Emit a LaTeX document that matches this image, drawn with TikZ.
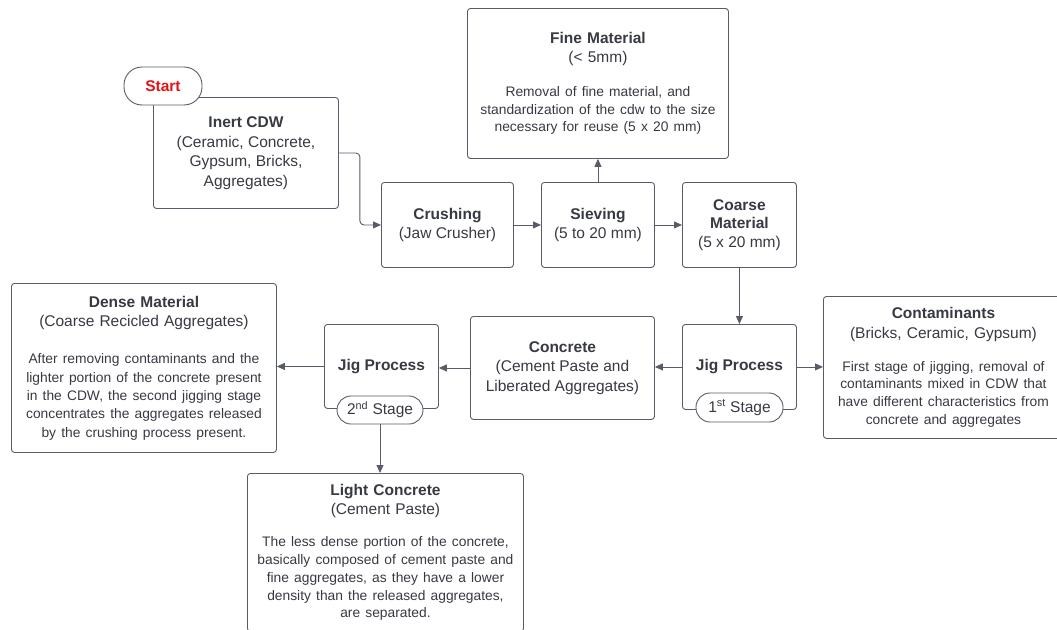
\documentclass[tikz,border=0pt]{standalone}
\usepackage{fontspec}
\setmainfont{Liberation Sans}
\usetikzlibrary{arrows.meta}
\definecolor{lncol}{RGB}{88,92,104}
\definecolor{txtcol}{RGB}{55,58,66}
\definecolor{startred}{RGB}{226,20,20}
\newcommand{\descfont}{\fontsize{13.8}{17.7}\selectfont}
\begin{document}
\begin{tikzpicture}[x=1pt,y=-1pt,
  box/.style={draw=lncol, line width=0.9pt, rounded corners=3pt, fill=white,
    anchor=north west, inner sep=0pt, align=center, text=txtcol,
    font=\fontsize{15.5}{19.5}\selectfont},
  pill/.style={draw=lncol, line width=0.9pt, rounded corners=14pt, fill=white,
    inner sep=0pt, align=center, text=txtcol, font=\fontsize{15.5}{19}\selectfont},
  arr/.style={draw=lncol, line width=0.9pt, -{Triangle[length=8pt,width=7pt]}, rounded corners=4pt}]
\useasboundingbox (0,0) rectangle (1057,629);
% boxes
\node[box, minimum width=185pt, minimum height=111pt] (inert) at (153,97)
  {\textbf{Inert CDW}\\(Ceramic, Concrete,\\Gypsum, Bricks,\\Aggregates)};
\node[box, minimum width=261pt, minimum height=150pt, text width=252pt] (fine) at (467,8)
  {\textbf{Fine Material}\\(< 5mm)\par\vspace{16pt}{\descfont Removal of fine material, and\\standardization of the cdw to the size\\necessary for reuse (5 x 20 mm)\par}};
\node[box, minimum width=132pt, minimum height=85pt] (crush) at (381,182)
  {\textbf{Crushing}\\(Jaw Crusher)};
\node[box, minimum width=113pt, minimum height=85pt] (sieve) at (541,182)
  {\textbf{Sieving}\\(5 to 20 mm)};
\node[box, minimum width=114pt, minimum height=85pt, font=\fontsize{15.5}{18.5}\selectfont] (coarse) at (682,182)
  {\textbf{Coarse}\\\textbf{Material}\\(5 x 20 mm)};
\node[box, minimum width=114pt, minimum height=85pt] (jig1) at (682,324)
  {\textbf{Jig Process}};
\node[box, minimum width=240pt, minimum height=142pt, text width=232pt] (cont) at (823,296)
  {\textbf{Contaminants}\\(Bricks, Ceramic, Gypsum)\par\vspace{15pt}{\descfont First stage of jigging, removal of\\contaminants mixed in CDW that\\have different characteristics from\\concrete and aggregates\par}};
\node[box, minimum width=184pt, minimum height=103pt] (concrete) at (470,316)
  {\textbf{Concrete}\\(Cement Paste and\\Liberated Aggregates)};
\node[box, minimum width=114pt, minimum height=84pt] (jig2) at (324,324)
  {\textbf{Jig Process}};
\node[box, minimum width=265pt, minimum height=169pt, text width=258pt] (dense) at (11,283)
  {\textbf{Dense Material}\\(Coarse Recicled Aggregates)\par\vspace{19pt}{\fontsize{13.8}{18.3}\selectfont After removing contaminants and the\\lighter portion of the concrete present\\in the CDW, the second jigging stage\\concentrates the aggregates released\\by the crushing process present.\par}};
\node[box, minimum width=276pt, minimum height=158pt, text width=268pt] (light) at (247,473)
  {\textbf{Light Concrete}\\(Cement Paste)\par\vspace{14pt}{\fontsize{13.8}{17.8}\selectfont The less dense portion of the concrete,\\basically composed of cement paste and\\fine aggregates, as they have a lower\\density than the released aggregates,\\are separated.\par}};
% pills
\node[pill, minimum width=78pt, minimum height=38pt, rounded corners=18pt, text=startred] (start) at (163,86)
  {\textbf{Start}};
\node[pill, minimum width=87pt, minimum height=29pt] (stage1) at (739.5,407.5)
  {1\textsuperscript{st} Stage};
\node[pill, minimum width=86pt, minimum height=28pt] (stage2) at (380,410)
  {2\textsuperscript{nd} Stage};
% connectors
\draw[arr] (inert.east) -- ++(21,0) |- (crush.west);
\draw[arr] (crush.east) -- (sieve.west);
\draw[arr] (sieve.east) -- (coarse.west);
\draw[arr] (sieve.north) -- (fine.south);
\draw[arr] (coarse.south) -- (jig1.north);
\draw[arr] (jig1.east) -- (jig1.east -| cont.west);
\draw[arr] (jig1.west) -- (jig1.west -| concrete.east);
\draw[arr] (concrete.west) -- (concrete.west -| jig2.east);
\draw[arr] (jig2.west) -- (jig2.west -| dense.east);
\draw[arr] (stage2.south) -- (stage2.south |- light.north);
\end{tikzpicture}
\end{document}
